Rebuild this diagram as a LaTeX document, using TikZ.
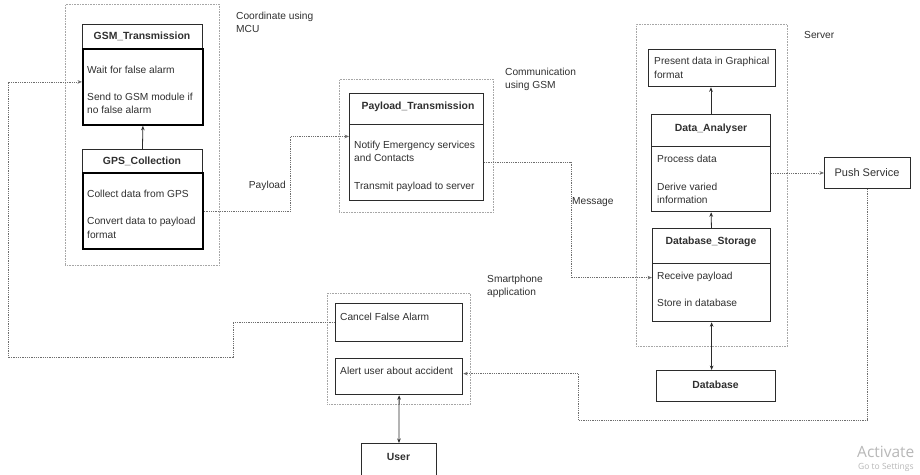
\documentclass[tikz,border=0pt]{standalone}
\usepackage{fontspec}
\setmainfont{Liberation Sans}
\newfontfamily\wmfont{Open Sans}
\usetikzlibrary{arrows.meta}
\definecolor{ink}{HTML}{303030}
\definecolor{edge}{HTML}{2B2B2B}
\definecolor{dots}{HTML}{6E6E6E}
\definecolor{grp}{HTML}{A6A6A6}
\definecolor{wm}{HTML}{B8B8B8}

\tikzset{
  blk/.style={draw=edge, line width=0.9pt, rectangle, inner sep=0pt, anchor=north west},
  heavyblk/.style={blk, draw=black, line width=1.8pt},
  midblk/.style={blk, line width=1.25pt},
  grpbox/.style={draw=grp, line width=0.8pt, dash pattern=on 0.8pt off 0.8pt,
    rectangle, inner sep=0pt, anchor=north west},
  ttl/.style={font=\fontsize{10.4}{12}\selectfont\bfseries, text=ink, inner sep=0pt,
    text height=7.4pt, text depth=0pt},
  txt/.style={font=\fontsize{10.2}{12}\selectfont, text=ink, inner sep=0pt,
    anchor=west, text height=7.4pt, text depth=0pt},
  tip/.tip={Stealth[length=4.5pt,width=3.6pt]},
  solidarrow/.style={draw=edge, line width=0.8pt, -tip},
  twoway/.style={draw=edge, line width=0.8pt, tip-tip},
  dotflow/.style={draw=dots, line width=0.8pt, dash pattern=on 1pt off 0.8pt},
  dotarrow/.style={dotflow, -tip},
}

\begin{document}
\begin{tikzpicture}[x=1pt,y=-1pt]
\useasboundingbox (0,0) rectangle (920,474);
\clip (0,0) rectangle (920,474);
\fill[white] (0,0) rectangle (920,474);

% ---------- microcontroller group ----------
\node[grpbox, minimum width=154pt, minimum height=261pt] (mcu) at (65,4) {};
\node[txt] (mcuA) at (236,16) {Coordinate using};
\node[txt] (mcuB) at (236,29) {MCU};

\node[blk, minimum width=120pt, minimum height=24pt] (gsmh) at (82,24) {};
\node[heavyblk, minimum width=120pt, minimum height=76pt] (gsmb) at (82,48) {};
\node[ttl] (gsmt) at (142,36) {GSM\_Transmission};
\node[txt] (gsm1) at (87,70) {Wait for false alarm};
\node[txt] (gsm2) at (87,96.5) {Send to GSM module if};
\node[txt] (gsm3) at (87,109.5) {no false alarm};

\node[blk, minimum width=120pt, minimum height=23pt] (gpsh) at (82,149) {};
\node[heavyblk, minimum width=120pt, minimum height=76pt] (gpsb) at (82,172) {};
\node[ttl] (gpst) at (142,160.5) {GPS\_Collection};
\node[txt] (gps1) at (87,194) {Collect data from GPS};
\node[txt] (gps2) at (87,221) {Convert data to payload};
\node[txt] (gps3) at (87,235) {format};

% ---------- GSM communication group ----------
\node[grpbox, minimum width=154pt, minimum height=133pt] (comm) at (339,79) {};
\node[txt] (commA) at (505,72) {Communication};
\node[txt] (commB) at (505,84.5) {using GSM};

\node[blk, minimum width=134pt, minimum height=31pt] (plh) at (349,93) {};
\node[blk, minimum width=134pt, minimum height=76pt] (plb) at (349,124) {};
\node[ttl] (plt) at (418,106) {Payload\_Transmission};
\node[txt] (pl1) at (354,145) {Notify Emergency services};
\node[txt] (pl2) at (354,158) {and Contacts};
\node[txt] (pl3) at (354,186) {Transmit payload to server};

% ---------- server group ----------
\node[grpbox, minimum width=151pt, minimum height=322pt] (srv) at (636,24) {};
\node[txt] (srvA) at (804,35) {Server};

\node[midblk, minimum width=127pt, minimum height=37pt] (pres) at (648,49) {};
\node[txt] (pres1) at (654,61) {Present data in Graphical};
\node[txt] (pres2) at (654,75) {format};

\node[blk, minimum width=119pt, minimum height=32pt] (dah) at (651,114) {};
\node[midblk, minimum width=119pt, minimum height=65pt] (dab) at (651,146) {};
\node[ttl] (dat) at (711,127.5) {Data\_Analyser};
\node[txt] (da1) at (657,159) {Process data};
\node[txt] (da2) at (657,186.5) {Derive varied};
\node[txt] (da3) at (657,200) {information};

\node[blk, minimum width=118pt, minimum height=35pt] (dsh) at (652,228) {};
\node[midblk, minimum width=118pt, minimum height=58pt] (dsb) at (652,263) {};
\node[ttl] (dst) at (711,241) {Database\_Storage};
\node[txt] (ds1) at (657,276) {Receive payload};
\node[txt] (ds2) at (657,303) {Store in database};

\node[blk, minimum width=119pt, minimum height=31pt] (db) at (656,370) {};
\node[ttl] (dbt) at (715.5,385) {Database};

\node[blk, minimum width=86pt, minimum height=31pt] (psh) at (824,157) {};
\node[txt, anchor=center, font=\fontsize{11}{13}\selectfont] (pst) at (867,172.5) {Push Service};

% ---------- smartphone application group ----------
\node[grpbox, minimum width=143pt, minimum height=111pt] (app) at (327,293) {};
\node[txt] (appA) at (487,279) {Smartphone};
\node[txt] (appB) at (487,292) {application};

\node[midblk, minimum width=127pt, minimum height=38pt] (cancel) at (335,303) {};
\node[txt] (cancel1) at (340,317) {Cancel False Alarm};
\node[midblk, minimum width=127pt, minimum height=36pt] (alert) at (335,358) {};
\node[txt] (alert1) at (340,371) {Alert user about accident};

\node[blk, minimum width=75pt, minimum height=35pt] (user) at (361,443) {};
\node[ttl] (usert) at (398.5,457) {User};

% ---------- connectors ----------
\draw[solidarrow] (gpsh.north) -- (gsmb.south);
\draw[dotarrow] (gpsb.east) -- ++(87,0) |- ([yshift=26pt]plb.west);
\node[txt, anchor=east] (plabel) at (286,185) {Payload};

\draw[dotarrow] (plb.east) -- ++(87,0) |- ([yshift=15pt]dsb.west);
\node[txt] (mlabel) at (572,201) {Message};

\draw[solidarrow] (dsh.north) -- (dab.south);
\draw[solidarrow] (dah.north) -- (dah.north |- pres.south);
\draw[twoway] (dsb.south) -- (dsb.south |- db.north);
\draw[dotarrow] (dab.east |- psh.west) -- (psh.west);

\draw[dotarrow] (psh.south) |- ++(-289,231) |- ([yshift=3pt]alert.east);
\draw[dotarrow] (cancel.west) -- ++(-102,0) |- ++(-225,35) |- ([yshift=5pt]gsmb.west);
\draw[twoway] (alert.south) -- (user.north);

% ---------- system watermark ----------
\node[anchor=west, inner sep=0pt, text=wm, font=\wmfont\fontsize{15.5}{18}\selectfont] (wm1) at (857,452) {Activate};
\node[anchor=west, inner sep=0pt, text=wm, font=\wmfont\fontsize{8.5}{10}\selectfont] (wm2) at (858,467) {Go to Settings};
\end{tikzpicture}
\end{document}
